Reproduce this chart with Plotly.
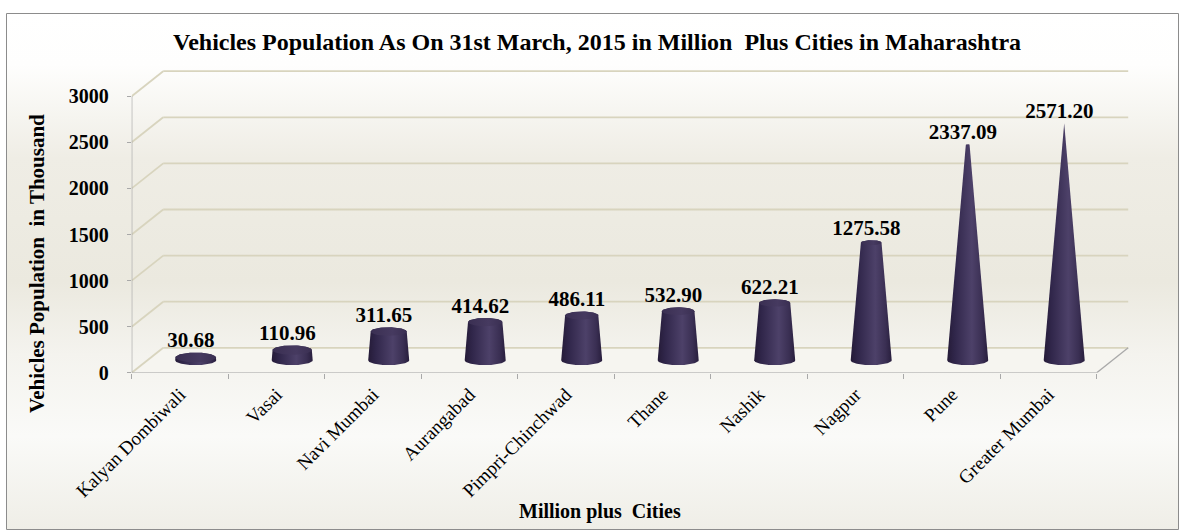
import base64
import numpy as np
import plotly.graph_objects as go

# ---------------- data ----------------
cities = ["Kalyan Dombiwali", "Vasai", "Navi Mumbai", "Aurangabad", "Pimpri-Chinchwad",
          "Thane", "Nashik", "Nagpur", "Pune", "Greater Mumbai"]
values = [30.68, 110.96, 311.65, 414.62, 486.11, 532.90, 622.21, 1275.58, 2337.09, 2571.20]
value_labels = [f"{v:.2f}" for v in values]
y_ticks = [0, 500, 1000, 1500, 2000, 2500, 3000]

title_text = "Vehicles Population As On 31st March, 2015 in Million\u00a0 Plus Cities in Maharashtra"
x_title = "Million plus\u00a0 Cities"
y_title = "Vehicles Population\u00a0 in Thousand"

# ---------------- geometry (pixel layout of the 1186x530 page) ----------------
W, H = 1186, 530
PX_CAT = 96.5            # pixels per category
X0_PX = 131.7            # pixel of x = -0.5
Y0_PX = 372.8            # pixel of y = 0
PX_UNIT = 0.0922         # pixels per value unit
DEPTH_X = 31.5 / PX_CAT  # back wall offset (category units)
DEPTH_Y = 25.0 / PX_UNIT # back wall offset (value units)
X_MAX = len(cities) - 0.5 + 0.36
Y_MAX = 3290
RB = 20.5 / PX_CAT       # cone base radius
RY = 4.9 / PX_UNIT       # cone ellipse vertical radius

x_dom = [X0_PX / W, (X0_PX + (X_MAX + 0.5) * PX_CAT) / W]
y_dom = [(H - Y0_PX) / H, (H - (Y0_PX - Y_MAX * PX_UNIT)) / H]

FONT = "Liberation Serif"
GRID = "#d8d4be"
EDGE = "#a9a9a9"

fig = go.Figure()

# ---------------- background gradient ----------------
svg = (
    f"<svg xmlns='http://www.w3.org/2000/svg' width='{W}' height='{H}' preserveAspectRatio='none'>"
    "<defs><linearGradient id='g' x1='0' y1='0' x2='0' y2='1'>"
    "<stop offset='0' stop-color='#ffffff'/>"
    "<stop offset='0.10' stop-color='#fefefd'/>"
    "<stop offset='0.28' stop-color='#efede5'/>"
    "<stop offset='0.52' stop-color='#ebe9df'/>"
    "<stop offset='0.66' stop-color='#f4f3ee'/>"
    "<stop offset='0.82' stop-color='#fafaf8'/>"
    "<stop offset='1' stop-color='#efeee7'/>"
    "</linearGradient></defs>"
    f"<rect x='0' y='0' width='{W}' height='{H}' fill='url(#g)'/></svg>"
)
src = "data:image/svg+xml;base64," + base64.b64encode(svg.encode()).decode()
fig.add_layout_image(source=src, xref="paper", yref="paper",
                     x=6.5 / W, y=1 - 13.5 / H, sizex=(1178.5 - 6.5) / W, sizey=(529.5 - 13.5) / H,
                     xanchor="left", yanchor="top", sizing="stretch", layer="below")
# border
fig.add_shape(type="rect", xref="paper", yref="paper",
              x0=6.5 / W, x1=1178.5 / W, y0=1 - 529.5 / H, y1=1 - 13.5 / H,
              line=dict(color="#8c8c8c", width=1), fillcolor="rgba(0,0,0,0)", layer="below")

# ---------------- 3D frame: floor, walls, gridlines ----------------
x_left, x_right = -0.5, len(cities) - 0.5
fig.add_shape(type="path", xref="x", yref="y",
              path=f"M {x_left},0 L {x_right},0 L {x_right + DEPTH_X},{DEPTH_Y} L {x_left + DEPTH_X},{DEPTH_Y} Z",
              fillcolor="#f6f5f0", line=dict(width=0), layer="below")
for t in y_ticks:
    fig.add_shape(type="line", xref="x", yref="y",
                  x0=x_left + DEPTH_X, x1=x_right + DEPTH_X, y0=t + DEPTH_Y, y1=t + DEPTH_Y,
                  line=dict(color=GRID, width=1.8), layer="below")
    fig.add_shape(type="line", xref="x", yref="y",
                  x0=x_left, x1=x_left + DEPTH_X, y0=t, y1=t + DEPTH_Y,
                  line=dict(color=GRID, width=1.8), layer="below")
fig.add_shape(type="line", xref="x", yref="y", x0=x_left, x1=x_right, y0=0, y1=0,
              line=dict(color=EDGE, width=1.3), layer="below")
fig.add_shape(type="line", xref="x", yref="y", x0=x_right, x1=x_right + DEPTH_X, y0=0, y1=DEPTH_Y,
              line=dict(color=EDGE, width=1.3), layer="below")
fig.add_shape(type="line", xref="x", yref="y", x0=x_left, x1=x_left, y0=0, y1=y_ticks[-1],
              line=dict(color=EDGE, width=1.3), layer="below")

# ---------------- cones ----------------
vmax = max(values)
body_scale = [[0, "#251b38"], [0.18, "#30264a"], [0.6, "#4d4169"], [0.85, "#3a2f53"], [1, "#281e3d"]]
cap_scale = [[0, "#3a2f52"], [0.6, "#463a60"], [1, "#3a2f52"]]
t_low = np.linspace(np.pi, 2 * np.pi, 48)
t_up = np.linspace(0, np.pi, 48)
t_full = np.linspace(0, 2 * np.pi, 96)
for i, v in enumerate(values):
    xc = i + DEPTH_X / 2
    yb = DEPTH_Y / 2
    yt = yb + v
    rt = RB * (1 - v / vmax)
    ryt = RY * rt / RB
    bx = np.concatenate([xc + RB * np.cos(t_low), xc + rt * np.cos(t_up), [xc - RB]])
    by = np.concatenate([yb + RY * np.sin(t_low), yt + ryt * np.sin(t_up), [yb]])
    fig.add_trace(go.Scatter(x=bx, y=by, mode="lines", line=dict(width=0), fill="toself",
                             fillgradient=dict(type="horizontal", colorscale=body_scale),
                             hoverinfo="skip", showlegend=False))
    if rt > 1e-6:
        fig.add_trace(go.Scatter(x=xc + rt * np.cos(t_full), y=yt + ryt * np.sin(t_full),
                                 mode="lines", line=dict(width=0), fill="toself",
                                 fillgradient=dict(type="horizontal", colorscale=cap_scale),
                                 hoverinfo="skip", showlegend=False))

# data labels
lab_x = [i + DEPTH_X / 2 - 0.05 for i in range(len(values))]
lab_y = [v + DEPTH_Y / 2 + RY * (1 - v / vmax) for v in values]
fig.add_trace(go.Scatter(x=lab_x, y=lab_y, mode="text", text=value_labels,
                         textposition="top center",
                         textfont=dict(family=FONT, size=21, color="#000000", weight="bold"),
                         hoverinfo="skip", showlegend=False, cliponaxis=False))

# category axis carrier
fig.add_trace(go.Scatter(x=cities, y=values, xaxis="x2", mode="markers",
                         marker=dict(opacity=0, size=1), hoverinfo="skip", showlegend=False))

fig.update_layout(
    width=W, height=H,
    margin=dict(l=0, r=0, t=0, b=0, autoexpand=False),
    paper_bgcolor="#ffffff", plot_bgcolor="rgba(0,0,0,0)",
    font=dict(family=FONT),
    xaxis=dict(domain=x_dom, range=[-0.5, X_MAX], visible=False, fixedrange=True, automargin=False),
    xaxis2=dict(domain=x_dom, range=[-0.5, X_MAX], overlaying="x", anchor="y", side="bottom",
                type="category", categoryorder="array", categoryarray=cities, automargin=False,
                tickson="boundaries", ticks="outside", ticklen=5, tickcolor=EDGE, tickwidth=1,
                tickangle=-45, showgrid=False, showline=False, zeroline=False,
                ticklabelstandoff=6,
                tickfont=dict(family=FONT, size=19, color="#000000")),
    yaxis=dict(domain=y_dom, range=[0, Y_MAX], tickvals=y_ticks, ticks="outside", ticklen=4,
               tickcolor=EDGE, showgrid=False, showline=False, zeroline=False, automargin=False,
               ticklabelstandoff=14,
               tickfont=dict(family=FONT, size=20, color="#000000", weight="bold")),
    showlegend=False,
)

fig.add_annotation(text=title_text, xref="paper", yref="paper", x=596.5 / W, y=1 - 42 / H,
                   xanchor="center", yanchor="middle", showarrow=False,
                   font=dict(family=FONT, size=24, color="#000000", weight="bold"))
fig.add_annotation(text=x_title, xref="paper", yref="paper", x=600 / W, y=1 - 511 / H,
                   xanchor="center", yanchor="middle", showarrow=False,
                   font=dict(family=FONT, size=20, color="#000000", weight="bold"))
fig.add_annotation(text=y_title, xref="paper", yref="paper", x=37 / W, y=1 - 264 / H,
                   xanchor="center", yanchor="middle", showarrow=False, textangle=-90,
                   font=dict(family=FONT, size=21, color="#000000", weight="bold"))

fig.write_html("out.html", config={"displayModeBar": False},
               post_script="document.body.style.margin='0';document.body.style.overflow='hidden';")
